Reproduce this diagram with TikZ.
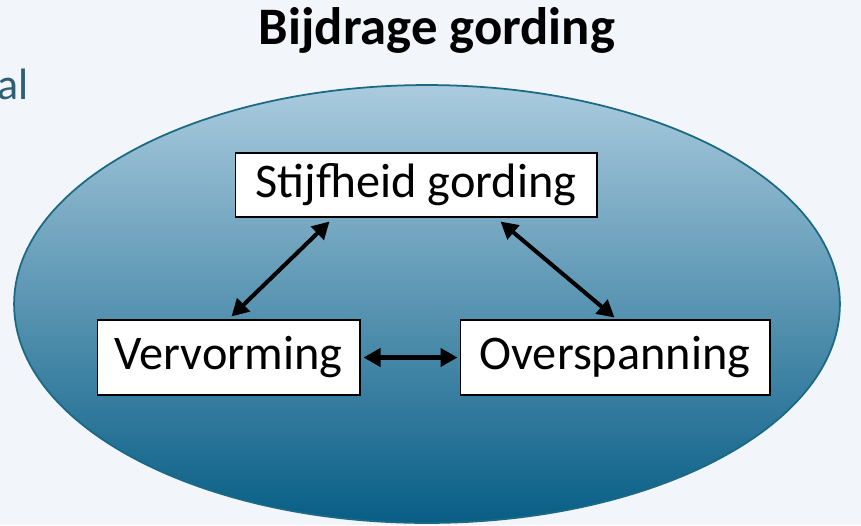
\documentclass[tikz,border=0pt]{standalone}
\usepackage{fontspec}
\setmainfont{Carlito}
\usepackage{xcolor}
\usetikzlibrary{arrows.meta,positioning,shapes.geometric}
\definecolor{sfondo}{HTML}{F2F5FA}
\definecolor{alto}{HTML}{AACBDE}
\definecolor{basso}{HTML}{085E86}
\definecolor{bordo}{HTML}{1B6983}
\definecolor{testoteal}{HTML}{2E5F73}
\tikzset{
  x=0.02cm,y=-0.02cm,
  scatola/.style={draw=black,line width=0.6pt,fill=white,inner sep=0pt,font=\fontsize{27.5}{32}\selectfont},
  freccia/.style={{Triangle[length=3.4mm,width=3.6mm]}-{Triangle[length=3.4mm,width=3.6mm]},line width=2.3pt,black}
}
\begin{document}
\begin{tikzpicture}
\useasboundingbox[fill=sfondo] (0,0) rectangle (861,525);
% titolo e testo tagliato
\node[font=\fontsize{30}{36}\selectfont\bfseries] (titolo) at (437,30) {Bijdrage gording};
\node[font=\fontsize{25}{30}\selectfont,text=testoteal,anchor=east,inner sep=0pt] (resto) at (29,84) {al};
% ellisse
\node[ellipse,draw=bordo,line width=1pt,top color=alto,bottom color=basso,
      minimum width=16.52cm,minimum height=8.76cm,inner sep=0pt] (nube) at (427,304) {};
% scatole
\node[scatola,minimum width=7.24cm,minimum height=1.28cm] (stijf) at (416,185) {Stijfheid gording};
\node[scatola,minimum width=5.26cm,minimum height=1.5cm] (verv) at (228.5,357.5) {Vervorming};
\node[scatola,minimum width=6.2cm,minimum height=1.5cm] (overs) at (615,357.5) {Overspanning};
% frecce
\draw[freccia] ([xshift=1.9cm,yshift=-0.08cm]stijf.south west) -- ([xshift=2.7cm,yshift=0.06cm]verv.north west);
\draw[freccia] ([xshift=-1.94cm,yshift=-0.08cm]stijf.south east) -- ([xshift=3.1cm,yshift=0.04cm]overs.north west);
\draw[freccia] ([xshift=0.06cm]verv.east) -- ([xshift=-0.04cm]overs.west);
\end{tikzpicture}
\end{document}
